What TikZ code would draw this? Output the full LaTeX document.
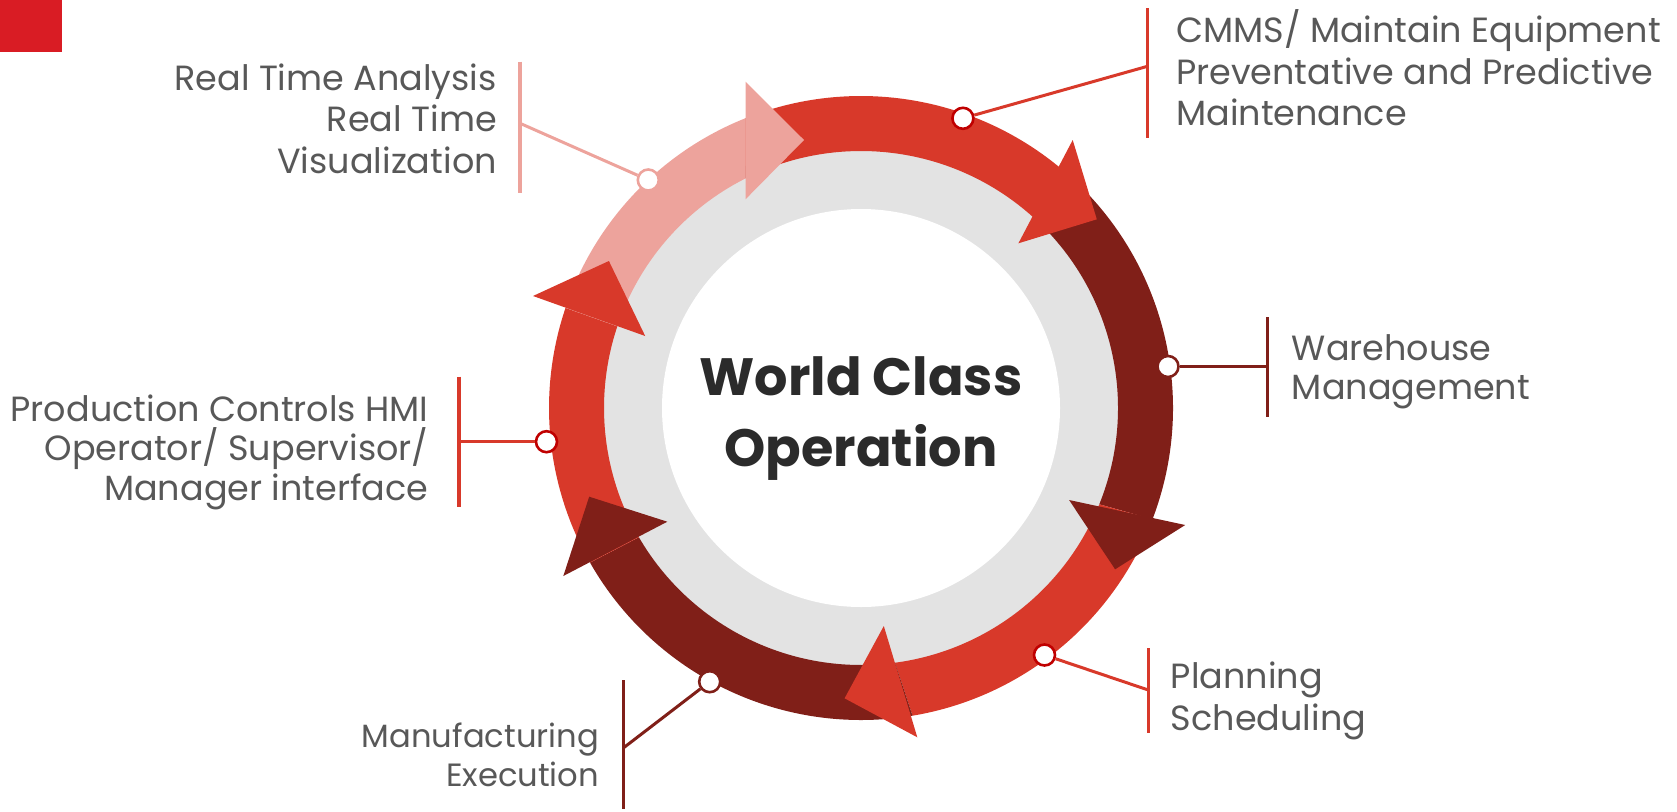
\documentclass[tikz,border=0pt]{standalone}
\usepackage{fontspec}
\setmainfont{Poppins}
\usetikzlibrary{calc}
\definecolor{cRed}{RGB}{216,57,42}
\definecolor{cDark}{RGB}{128,31,24}
\definecolor{cPink}{RGB}{237,163,156}
\definecolor{cRing}{RGB}{227,227,227}
\definecolor{cDotRed}{RGB}{192,0,0}
\definecolor{cText}{RGB}{88,88,88}
\definecolor{cTitle}{RGB}{43,43,43}
\definecolor{cSquare}{RGB}{217,28,36}
\newcommand\ringseg[5]{\fill[#1] ($(C)+(#2:312pt)$) arc[start angle=#2,end angle=#3,radius=312pt] -- ($(C)+(#4:257pt)$) arc[start angle=#4,end angle=#5,radius=257pt] -- cycle;}
\newcommand\tstrut{\rule{0pt}{30pt}}
\begin{document}
\begin{tikzpicture}[x=1pt,y=1pt,
  lbl/.style={font=\fontsize{35}{41.7}\selectfont, text=cText, inner sep=0pt},
  dot/.style={circle, fill=white, draw=#1, line width=2.6pt, minimum size=21pt, inner sep=0pt},
  bar/.style={draw=#1, line width=3.5pt},
  lead/.style={draw=#1, line width=3pt}]
\useasboundingbox (0,0) rectangle (1677,-811);
\fill[cSquare] (0,0) rectangle (62,-52);
\coordinate (C) at (861,-408);
\fill[cRing] (C) circle[radius=268pt];
\fill[white] (C) circle[radius=199pt];
% shafts
\ringseg{cPink}{161.3}{111.7}{116.7}{161.5}
\ringseg{cRed}{111.7}{50.4}{47.8}{116.7}
\ringseg{cDark}{50.4}{-20.9}{-22.0}{47.8}
\ringseg{cRed}{-20.9}{-80.5}{-82.4}{-22.0}
\ringseg{cDark}{-80.5}{-150.3}{-149.8}{-82.4}
\ringseg{cRed}{-150.3}{-198.7}{-198.5}{-149.8}
% heads
\fill[cPink] (745.5,-81.7) -- (804,-140) -- (745.5,-199.3) -- cycle;
\fill[cRed] (1072.7,-140) -- (1096.8,-219.3) -- (1018.4,-243.3) -- cycle;
\fill[cDark] (1185.2,-525) -- (1115.1,-569.3) -- (1069.1,-500) -- cycle;
\fill[cRed] (917.3,-737.3) -- (844.6,-698.3) -- (883.8,-626) -- cycle;
\fill[cDark] (563.3,-576) -- (589.2,-496.7) -- (667.3,-521.7) -- cycle;
\fill[cRed] (533,-296) -- (608.9,-261) -- (645.2,-336) -- cycle;
% title
\node[font=\bfseries\fontsize{52.5}{71.7}\selectfont, text=cTitle, align=center, anchor=north, inner sep=0pt] (title) at (861,-345) {\rule{0pt}{50pt}World Class\\Operation};
% connector dots
\node[dot=cPink] (d1) at (648.3,-180) {};
\node[dot=cDotRed] (d2) at (962.9,-118.3) {};
\node[dot=cDark] (d3) at (1168,-366.5) {};
\node[dot=cDotRed] (d4) at (1044.5,-655) {};
\node[dot=cDark] (d5) at (709.7,-681.7) {};
\node[dot=cDotRed] (d6) at (546.5,-441.7) {};
% bars
\coordinate (b1a) at (520,-61.7);  \coordinate (b1b) at (520,-193.3);  \coordinate (j1) at (520,-123.3);
\coordinate (b2a) at (1147.5,-8.3); \coordinate (b2b) at (1147.5,-138.3); \coordinate (j2) at (1147.5,-66.3);
\coordinate (b3a) at (1267.7,-317.3); \coordinate (b3b) at (1267.7,-416.7); \coordinate (j3) at (1267.7,-366.5);
\coordinate (b4a) at (1148.3,-648.3); \coordinate (b4b) at (1148.3,-733.3); \coordinate (j4) at (1148.3,-690);
\coordinate (b5a) at (623.3,-680); \coordinate (b5b) at (623.3,-809); \coordinate (j5) at (623.3,-748);
\coordinate (b6a) at (458.9,-376.7); \coordinate (b6b) at (458.9,-506.7); \coordinate (j6) at (458.9,-441.7);
\draw[bar=cPink] (b1a) -- (b1b);
\draw[bar=cRed] (b2a) -- (b2b);
\draw[bar=cDark] (b3a) -- (b3b);
\draw[bar=cRed] (b4a) -- (b4b);
\draw[bar=cDark] (b5a) -- (b5b);
\draw[bar=cRed] (b6a) -- (b6b);
\draw[lead=cPink] (j1) -- (d1);
\draw[lead=cRed] (j2) -- (d2);
\draw[lead=cDark] (j3) -- (d3);
\draw[lead=cRed] (j4) -- (d4);
\draw[lead=cDark] (j5) -- (d5);
\draw[lead=cRed] (j6) -- (d6);
% labels
\node[lbl, anchor=north east, align=right] (t1) at (497,-60) {\tstrut Real Time Analysis\\Real Time\\Visualization};
\node[lbl, anchor=north west, align=left] (t2) at (1176,-9.3) {\tstrut CMMS/ Maintain Equipment\\Preventative and Predictive\\Maintenance};
\node[lbl, font=\fontsize{35}{39}\selectfont, anchor=north west, align=left] (t3) at (1291.7,-330) {\tstrut Warehouse\\Management};
\node[lbl, anchor=north west, align=left] (t4) at (1170.7,-658.3) {\tstrut Planning\\Scheduling};
\node[lbl, font=\fontsize{32.2}{38.7}\selectfont, anchor=north east, align=right] (t5) at (599.3,-717.3) {\tstrut Manufacturing\\Execution};
\node[lbl, font=\fontsize{35}{39.6}\selectfont, anchor=north east, align=right] (t6) at (428.6,-391) {\tstrut Production Controls HMI\\Operator/ Supervisor/\\Manager interface};
\end{tikzpicture}
\end{document}
